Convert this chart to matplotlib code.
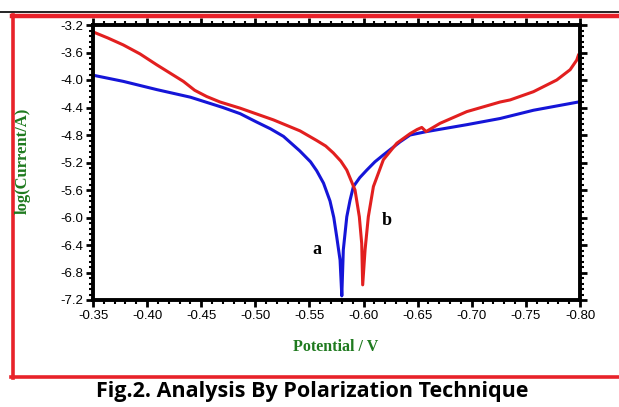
#!/usr/bin/env python3
"""Tafel polarization curves (a, b) with a red framed figure and caption."""

import matplotlib.pyplot as plt
from matplotlib.lines import Line2D
from matplotlib.ticker import MultipleLocator, FormatStrFormatter

# curve a (blue)
pot_a = [-0.350, -0.378, -0.409, -0.440, -0.470, -0.486, -0.501, -0.514, -0.526,
         -0.541, -0.551, -0.5567, -0.563, -0.569, -0.5725, -0.5752, -0.5783, -0.5799,
         -0.5813, -0.5845, -0.5875, -0.5906, -0.5965, -0.603, -0.6105, -0.6183,
         -0.6337, -0.643, -0.6584, -0.6954, -0.7262, -0.757, -0.7985]
logi_a = [-3.93, -4.02, -4.14, -4.25, -4.40, -4.49, -4.61, -4.71, -4.82,
          -5.03, -5.19, -5.32, -5.50, -5.76, -6.00, -6.28, -6.62, -7.14,
          -6.47, -5.99, -5.75, -5.55, -5.42, -5.31, -5.19, -5.09,
          -4.90, -4.80, -4.75, -4.65, -4.56, -4.44, -4.32]

# curve b (red)
pot_b = [-0.350, -0.3639, -0.378, -0.3934, -0.409, -0.4335, -0.444, -0.455, -0.4674,
         -0.486, -0.5167, -0.5413, -0.5567, -0.565, -0.572, -0.579, -0.5845,
         -0.5921, -0.5961, -0.5983, -0.5992,
         -0.6014, -0.6044, -0.6091, -0.6183, -0.6307, -0.643, -0.6495, -0.6538,
         -0.6578, -0.6707, -0.6954, -0.7262, -0.7354, -0.757, -0.7785, -0.7909,
         -0.797, -0.7985]
logi_b = [-3.30, -3.39, -3.49, -3.62, -3.78, -4.02, -4.15, -4.24, -4.32,
          -4.41, -4.58, -4.74, -4.88, -4.96, -5.06, -5.18, -5.31,
          -5.60, -5.99, -6.38, -6.98,
          -6.47, -5.99, -5.55, -5.16, -4.92, -4.78, -4.72, -4.69,
          -4.75, -4.63, -4.46, -4.32, -4.29, -4.17, -4.00, -3.85,
          -3.71, -3.64]

W, H = 619, 407
fig = plt.figure(figsize=(W / 100, H / 100), dpi=100, facecolor='white')

def fx(px):
    return px / W

def fy(py):
    return 1 - py / H

# frame lines around the figure
fig.add_artist(Line2D([0, 1], [fy(11.5), fy(11.5)], color='black', lw=1.2))
fig.add_artist(Line2D([fx(12), 1], [fy(16), fy(16)], color='#e8222a', lw=3.2))
fig.add_artist(Line2D([fx(12.5), fx(12.5)], [fy(14.5), fy(377.5)], color='#e8222a', lw=2.6))
fig.add_artist(Line2D([fx(11), 1], [fy(376.5), fy(376.5)], color='#e8222a', lw=2.6))

ax = fig.add_axes([fx(93), fy(300), fx(580) - fx(93), fy(25) - fy(300)])
ax.plot(pot_a, logi_a, color='#1515d8', lw=2.2, solid_joinstyle='round')
ax.plot(pot_b, logi_b, color='#e21f1f', lw=2.2, solid_joinstyle='round')

ax.set_xlim(-0.35, -0.80)
ax.set_ylim(-7.2, -3.2)
ax.xaxis.set_major_locator(MultipleLocator(0.05))
ax.xaxis.set_minor_locator(MultipleLocator(0.01))
ax.yaxis.set_major_locator(MultipleLocator(0.4))
ax.yaxis.set_minor_locator(MultipleLocator(0.08))
ax.xaxis.set_major_formatter(FormatStrFormatter('%.2f'))
ax.yaxis.set_major_formatter(FormatStrFormatter('%.1f'))

for s in ax.spines.values():
    s.set_linewidth(2.8)
ax.tick_params(which='major', direction='out', length=5, width=2, labelsize=9.5,
               top=True, right=True, pad=2)
ax.tick_params(which='minor', direction='out', length=3, width=1.5,
               top=True, right=True)
for lab in ax.get_xticklabels() + ax.get_yticklabels():
    lab.set_fontfamily('Liberation Sans')

ax.text(-0.557, -6.47, 'a', fontsize=13, fontweight='bold', family='Liberation Serif',
        ha='center', va='center')
ax.text(-0.621, -6.04, 'b', fontsize=13, fontweight='bold', family='Liberation Serif',
        ha='center', va='center')

fig.text(fx(23), fy(161), 'log(Current/A)', rotation=90, color='#1f7a1f',
         fontsize=12, fontweight='bold', family='Liberation Serif',
         ha='center', va='center')
fig.text(fx(336), fy(347), 'Potential / V', color='#1f7a1f',
         fontsize=11.5, fontweight='bold', family='Liberation Serif',
         ha='center', va='center')
fig.text(fx(312), fy(392), 'Fig.2. Analysis By Polarization Technique',
         fontsize=15.5, fontweight='bold', family='Open Sans', ha='center', va='center')

fig.savefig('out.png', dpi=100, facecolor='white')
